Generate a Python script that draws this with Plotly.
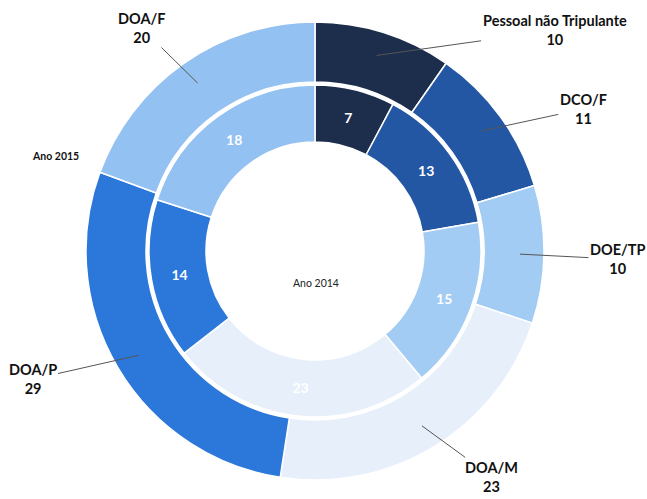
import math
import plotly.graph_objects as go

categories = ["Pessoal não Tripulante", "DCO/F", "DOE/TP", "DOA/M", "DOA/P", "DOA/F"]
values_2015 = [10, 11, 10, 23, 29, 20]
values_2014 = [7, 13, 15, 23, 14, 18]
colors = ["#1d2d4c", "#2357a3", "#a2ccf3", "#e7effa", "#2c77da", "#93c1f1"]

W, H = 647, 499
CX, CY = 315, 251          # centre of the rings, px from top-left
R_OUT, R_OUT_IN = 229, 169  # outer ring radii
R_IN, R_IN_IN = 166, 109    # inner ring radii

# label text offsets (px) from the leader-line head
label_offsets = [(178, -25), (102, -22), (98, 5), (70, 51), (-106, 24), (-56, -55)]


def dom(r):
    return dict(x=[(CX - r) / W, (CX + r) / W],
                y=[(H - CY - r) / H, (H - CY + r) / H])


fig = go.Figure()
fig.add_trace(go.Pie(
    labels=categories, values=values_2015, sort=False, direction="clockwise",
    rotation=0, hole=R_OUT_IN / R_OUT, domain=dom(R_OUT),
    marker=dict(colors=colors, line=dict(color="white", width=1.5)),
    textinfo="none", hoverinfo="skip", showlegend=False, name="Ano 2015"))
fig.add_trace(go.Pie(
    labels=categories, values=values_2014, sort=False, direction="clockwise",
    rotation=0, hole=R_IN_IN / R_IN, domain=dom(R_IN),
    marker=dict(colors=colors, line=dict(color="white", width=1.5)),
    textinfo="value", textposition="inside", insidetextorientation="horizontal",
    textfont=dict(family="Lato", size=14, color="white", weight="bold"),
    hoverinfo="skip", showlegend=False, name="Ano 2014"))

# leader-line labels for the outer ring, anchored at each slice's mid-angle
total = sum(values_2015)
cum = 0
annotations = []
for cat, v, (ox, oy) in zip(categories, values_2015, label_offsets):
    mid = (cum + v / 2) / total * 2 * math.pi
    cum += v
    r = 205
    px = CX + r * math.sin(mid)
    py = CY - r * math.cos(mid)
    annotations.append(dict(
        x=px / W, y=(H - py) / H, xref="paper", yref="paper",
        text=f"{cat}<br>{v}", showarrow=True, arrowhead=0, arrowwidth=1,
        arrowcolor="#555555", ax=ox, ay=oy,
        font=dict(family="Lato", size=14.5, color="#111111", weight="bold"),
        align="center"))

annotations.append(dict(x=55 / W, y=(H - 156) / H, xref="paper", yref="paper",
                        xanchor="center", yanchor="middle",
                        text="Ano 2015", showarrow=False,
                        font=dict(family="Lato", size=10.5, color="#111111", weight="bold")))
annotations.append(dict(x=316 / W, y=(H - 283) / H, xref="paper", yref="paper",
                        xanchor="center", yanchor="middle",
                        text="Ano 2014", showarrow=False,
                        font=dict(family="Lato", size=10.5, color="#222222")))

fig.update_layout(width=W, height=H, margin=dict(l=0, r=0, t=0, b=0),
                  paper_bgcolor="white", plot_bgcolor="white",
                  annotations=annotations, showlegend=False)
fig.write_html("out.html", config={"displayModeBar": False},
               post_script="document.body.style.margin='0';document.body.style.overflow='hidden';")
